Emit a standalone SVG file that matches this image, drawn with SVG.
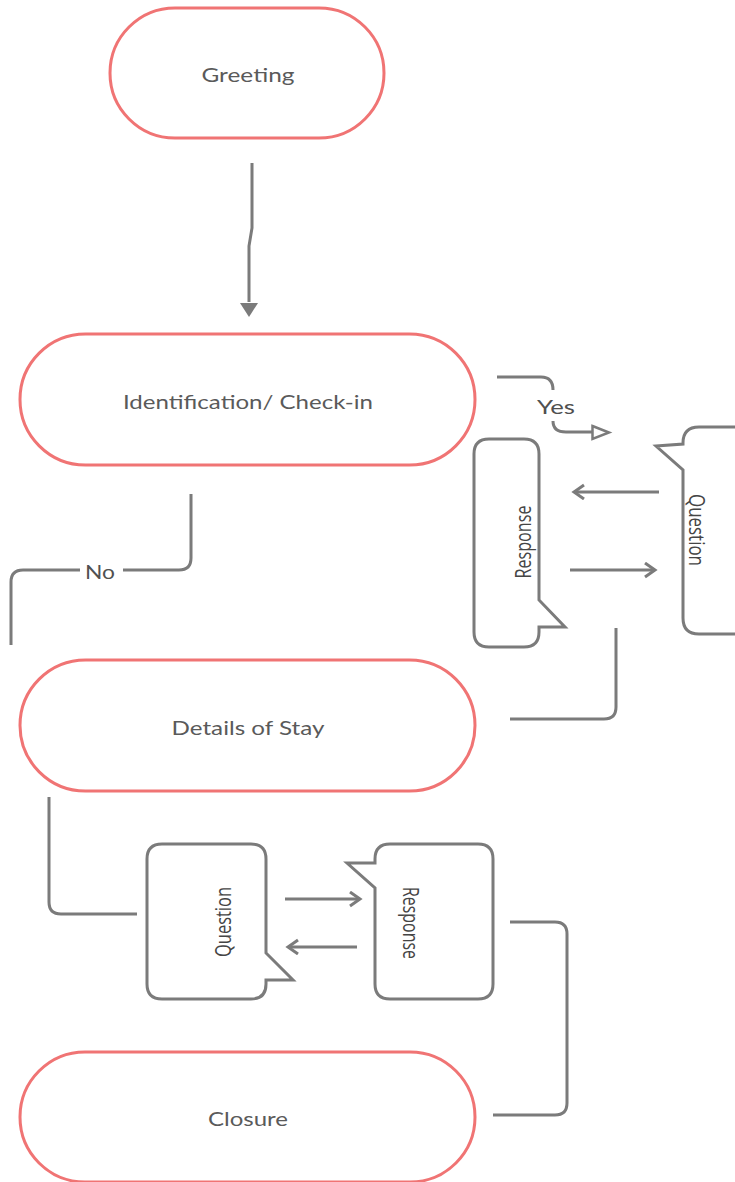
<svg xmlns="http://www.w3.org/2000/svg" width="735" height="1182" viewBox="0 0 735 1182">
  <defs>
    <style>
      .term { fill: #ffffff; stroke: #f07474; stroke-width: 3; }
      .bubble { fill: #ffffff; stroke: #7b7b7b; stroke-width: 3; stroke-linejoin: miter; }
      .wire { fill: none; stroke: #7b7b7b; stroke-width: 3; stroke-linecap: butt; }
      .label { font-family: Lato, "Liberation Sans", sans-serif; font-size: 19px; fill: #5a5a5a; text-anchor: middle; dominant-baseline: central; }
      .edge-label { font-family: Lato, "Liberation Sans", sans-serif; font-size: 19px; fill: #505050; text-anchor: middle; dominant-baseline: central; }
      .speech { font-family: "Open Sans", "Liberation Sans", sans-serif; font-size: 22px; fill: #454545; text-anchor: middle; dominant-baseline: central; }
    </style>
    <marker id="openHead" markerWidth="16" markerHeight="20" refX="13" refY="8" orient="auto" markerUnits="userSpaceOnUse">
      <path d="M3,1 L13,8 L3,15" fill="none" stroke="#7b7b7b" stroke-width="3"/>
    </marker>
  </defs>

  <!-- connectors -->
  <g id="connectors">
    <!-- Greeting to Identification -->
    <path class="wire" d="M252,163 L252,228 L249,246 L249,302"/>
    <path d="M240,303 L258,303 L249,317 Z" fill="#7b7b7b"/>
    <!-- Yes branch -->
    <path class="wire" d="M497,377 L541,377 Q553,377 553,390"/>
    <path class="wire" d="M553,421 Q553,432 566,432 L592,432"/>
    <path d="M592.5,426 L609,432.5 L592.5,439 Z" fill="#ffffff" stroke="#7b7b7b" stroke-width="2.5"/>
    <text class="edge-label" x="556" y="406" textLength="38" lengthAdjust="spacingAndGlyphs">Yes</text>
    <!-- No branch -->
    <path class="wire" d="M191,494 L191,558 Q191,570 179,570 L123,570"/>
    <path class="wire" d="M80,570 L23,570 Q11,570 11,582 L11,645"/>
    <text class="edge-label" x="100" y="571" textLength="30" lengthAdjust="spacingAndGlyphs">No</text>
    <!-- Question / Response exchange (upper) -->
    <path class="wire" d="M659,492 L574,492" marker-end="url(#openHead)"/>
    <path class="wire" d="M570,570 L655,570" marker-end="url(#openHead)"/>
    <!-- Details of Stay to upper Question -->
    <path class="wire" d="M510,719 L604,719 Q616,719 616,707 L616,628"/>
    <!-- Details of Stay to lower Question -->
    <path class="wire" d="M49,797 L49,902 Q49,914 61,914 L137,914"/>
    <!-- Question / Response exchange (lower) -->
    <path class="wire" d="M285,899 L360,899" marker-end="url(#openHead)"/>
    <path class="wire" d="M357,947 L288,947" marker-end="url(#openHead)"/>
    <!-- Response to Closure -->
    <path class="wire" d="M510,922 L555,922 Q567,922 567,934 L567,1103 Q567,1115 555,1115 L493,1115"/>
  </g>

  <g id="greeting">
    <rect class="term" x="110" y="8" width="274" height="130" rx="65" ry="65"/>
    <text class="label" x="248" y="74" textLength="93" lengthAdjust="spacingAndGlyphs">Greeting</text>
  </g>

  <g id="identification">
    <rect class="term" x="20" y="334" width="455" height="131" rx="65.5" ry="65.5"/>
    <text class="label" x="248" y="401" textLength="250" lengthAdjust="spacingAndGlyphs">Identification/ Check-in</text>
  </g>

  <g id="details">
    <rect class="term" x="20" y="660" width="455" height="131" rx="65.5" ry="65.5"/>
    <text class="label" x="248" y="727" textLength="153" lengthAdjust="spacingAndGlyphs">Details of Stay</text>
  </g>

  <g id="closure">
    <rect class="term" x="20" y="1052" width="455" height="130" rx="65" ry="65"/>
    <text class="label" x="248" y="1118" textLength="80" lengthAdjust="spacingAndGlyphs">Closure</text>
  </g>

  <!-- upper speech bubbles -->
  <g id="question-upper">
    <path class="bubble" d="M699,427 L750,427 L750,634 L699,634 Q683,634 683,618 L683,470 L656,446 L683,444 L683,443 Q683,427 699,427 Z"/>
    <text class="speech" transform="translate(698,530) rotate(90)" textLength="72" lengthAdjust="spacingAndGlyphs">Question</text>
  </g>

  <g id="response-upper">
    <path class="bubble" d="M489,439 L524,439 Q539,439 539,454 L539,600 L565,627 L539,627 L539,632 Q539,647 524,647 L489,647 Q474,647 474,632 L474,454 Q474,439 489,439 Z"/>
    <text class="speech" transform="translate(522,542) rotate(-90)" textLength="73" lengthAdjust="spacingAndGlyphs">Response</text>
  </g>

  <!-- lower speech bubbles -->
  <g id="question-lower">
    <path class="bubble" d="M162,844 L251,844 Q266,844 266,859 L266,953 L293,980 L266,980 L266,984 Q266,999 251,999 L162,999 Q147,999 147,984 L147,859 Q147,844 162,844 Z"/>
    <text class="speech" transform="translate(222,922) rotate(-90)" textLength="70" lengthAdjust="spacingAndGlyphs">Question</text>
  </g>

  <g id="response-lower">
    <path class="bubble" d="M390,844 L478,844 Q493,844 493,859 L493,984 Q493,999 478,999 L390,999 Q375,999 375,984 L375,888 L347,863 L375,863 L375,859 Q375,844 390,844 Z"/>
    <text class="speech" transform="translate(412,923) rotate(90)" textLength="72" lengthAdjust="spacingAndGlyphs">Response</text>
  </g>
</svg>
